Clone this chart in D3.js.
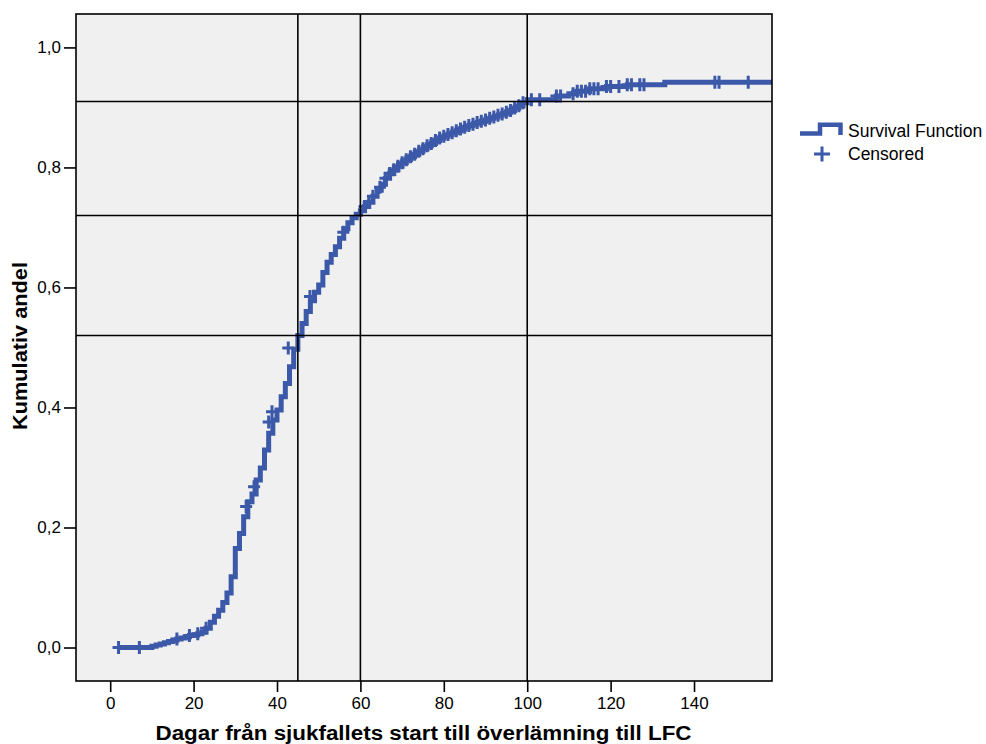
<!DOCTYPE html>
<html>
<head>
<meta charset="utf-8">
<script src="https://cdn.jsdelivr.net/npm/d3@7"></script>
<style>
  body { margin: 0; background: #fff; }
  svg { display: block; font-family: "Liberation Sans", Arial, sans-serif; }
</style>
</head>
<body>
<svg id="svg"></svg>
<script>
// event times (days) and cumulative share at each step
var eventDays = [2, 10, 11, 12, 13, 14, 15, 16, 17, 18, 19, 20, 21, 22, 23, 24, 25, 26, 27, 28,
  29, 30, 31, 32, 33, 34, 35, 36, 37, 38, 39, 40, 41, 42, 43, 44, 45, 46, 47, 48,
  49, 50, 51, 52, 53, 54, 55, 56, 57, 58, 59, 60, 61, 62, 63, 64, 65, 66, 67, 68,
  69, 70, 71, 72, 73, 74, 75, 76, 77, 78, 79, 80, 81, 82, 83, 84, 85, 86, 87, 88,
  89, 90, 91, 92, 93, 94, 95, 96, 97, 98, 99, 100, 107, 110, 112, 115, 119, 124, 133];
var cumShare = [0, 0.002, 0.004, 0.006, 0.008, 0.010, 0.012, 0.014, 0.016, 0.018, 0.020, 0.021, 0.023, 0.026, 0.032, 0.042, 0.052, 0.062, 0.075, 0.091,
  0.118, 0.165, 0.19, 0.218, 0.243, 0.256, 0.279, 0.299, 0.329, 0.357, 0.379, 0.396, 0.418, 0.44, 0.468, 0.497, 0.52, 0.54, 0.56, 0.578,
  0.592, 0.604, 0.625, 0.642, 0.655, 0.668, 0.682, 0.698, 0.708, 0.716, 0.722, 0.728, 0.735, 0.742, 0.752, 0.762, 0.772, 0.782, 0.79, 0.796,
  0.802, 0.808, 0.813, 0.818, 0.822, 0.827, 0.831, 0.836, 0.84, 0.845, 0.849, 0.852, 0.855, 0.858, 0.861, 0.864, 0.867, 0.87, 0.872, 0.875,
  0.877, 0.879, 0.882, 0.884, 0.887, 0.889, 0.892, 0.895, 0.899, 0.903, 0.908, 0.913, 0.919, 0.923, 0.927, 0.931, 0.935, 0.938, 0.942];
var lastDay = 160;

// censored cases
var censorDays = [2, 7, 16, 19, 21, 23, 32.6, 34.5, 38, 38.8, 42.7, 47.9, 55.9, 61, 62, 63, 64.7, 66, 67, 68,
  69, 70, 71, 72, 73, 74, 75, 76, 77, 78, 79, 80, 81, 82, 83, 84, 85, 86, 87, 88,
  89, 90, 91, 92, 93, 94, 95, 96, 97, 98, 99, 101, 103, 107, 108, 111, 112, 113, 114, 115,
  116, 117, 119, 120, 122, 124, 125, 127, 128, 145, 146, 153];
var censorShare = [0, 0, 0.014, 0.020, 0.023, 0.032, 0.235, 0.268, 0.376, 0.393, 0.499, 0.585, 0.692, 0.735, 0.742, 0.752, 0.767, 0.782, 0.79, 0.796,
  0.802, 0.808, 0.813, 0.818, 0.822, 0.827, 0.831, 0.836, 0.84, 0.845, 0.849, 0.852, 0.855, 0.858, 0.861, 0.864, 0.867, 0.87, 0.872, 0.875,
  0.877, 0.879, 0.882, 0.884, 0.887, 0.889, 0.892, 0.895, 0.899, 0.903, 0.908, 0.913, 0.913, 0.919, 0.919, 0.923, 0.927, 0.927, 0.927, 0.931,
  0.931, 0.931, 0.935, 0.935, 0.935, 0.938, 0.938, 0.938, 0.938, 0.942, 0.942, 0.942];

var xTicks = [0, 20, 40, 60, 80, 100, 120, 140];
var yTicks = [0, 0.2, 0.4, 0.6, 0.8, 1.0];
var refDays = [45, 60, 100];
var refShares = [0.52, 0.72, 0.91];

var width = 986, height = 744;
var blue = '#3c59a9';
var plot = { left: 76, right: 772, top: 14, bottom: 681 };

var x = d3.scaleLinear().domain([-8.2, 158.7]).range([plot.left, plot.right]);
var y = d3.scaleLinear().domain([-0.0558, 1.0557]).range([plot.bottom, plot.top]);

var comma = function (d) { return d3.format('.1f')(d).replace('.', ','); };

var s = d3.select('#svg').attr('width', width).attr('height', height);

s.append('defs').append('clipPath').attr('id', 'clip')
  .append('rect')
  .attr('x', plot.left).attr('y', plot.top)
  .attr('width', plot.right - plot.left).attr('height', plot.bottom - plot.top);

s.append('rect')
  .attr('x', plot.left).attr('y', plot.top)
  .attr('width', plot.right - plot.left).attr('height', plot.bottom - plot.top)
  .attr('fill', '#f0f0f0');

var g = s.append('g').attr('clip-path', 'url(#clip)');

// survival step line
var pts = eventDays.map(function (d, i) { return [d, cumShare[i]]; });
pts.push([lastDay, cumShare[cumShare.length - 1]]);

var line = d3.line()
  .x(function (d) { return x(d[0]); })
  .y(function (d) { return y(d[1]); })
  .curve(d3.curveStepAfter);

g.append('path')
  .datum(pts)
  .attr('d', line)
  .attr('fill', 'none')
  .attr('stroke', blue)
  .attr('stroke-width', 5);

// censored marks
g.selectAll('path.cens')
  .data(censorDays)
  .enter()
  .append('path')
  .attr('class', 'cens')
  .attr('transform', function (d, i) { return 'translate(' + x(d) + ',' + y(censorShare[i]) + ')'; })
  .attr('d', 'M-6,0H6M0,-6.5V6.5')
  .attr('stroke', blue)
  .attr('stroke-width', 3)
  .attr('fill', 'none');

// reference lines
g.selectAll('line.vref')
  .data(refDays)
  .enter()
  .append('line')
  .attr('x1', function (d) { return x(d); })
  .attr('x2', function (d) { return x(d); })
  .attr('y1', plot.top).attr('y2', plot.bottom)
  .attr('stroke', '#000').attr('stroke-width', 1.6);

g.selectAll('line.href')
  .data(refShares)
  .enter()
  .append('line')
  .attr('y1', function (d) { return y(d); })
  .attr('y2', function (d) { return y(d); })
  .attr('x1', plot.left).attr('x2', plot.right)
  .attr('stroke', '#000').attr('stroke-width', 1.6);

// frame
s.append('rect')
  .attr('x', plot.left).attr('y', plot.top)
  .attr('width', plot.right - plot.left).attr('height', plot.bottom - plot.top)
  .attr('fill', 'none').attr('stroke', '#000').attr('stroke-width', 1.6);

// axes
var axisX = d3.axisBottom(x).tickValues(xTicks).tickSize(11).tickSizeOuter(0).tickPadding(5);
var axisY = d3.axisLeft(y).tickValues(yTicks).tickSize(12).tickSizeOuter(0).tickPadding(3).tickFormat(comma);

var gx = s.append('g').attr('transform', 'translate(0,' + plot.bottom + ')').call(axisX);
var gy = s.append('g').attr('transform', 'translate(' + plot.left + ',0)').call(axisY);

[gx, gy].forEach(function (a) {
  a.select('.domain').remove();
  a.selectAll('line').attr('stroke', '#000').attr('stroke-width', 1.6);
  a.selectAll('text').attr('fill', '#000').style('font-size', '17px')
    .style('font-family', '"Liberation Sans", Arial, sans-serif');
});

// axis titles
s.append('text')
  .attr('x', (155 + 692) / 2).attr('y', 740)
  .attr('text-anchor', 'middle')
  .attr('textLength', 536).attr('lengthAdjust', 'spacingAndGlyphs')
  .style('font-size', '20px').style('font-weight', 'bold')
  .text('Dagar från sjukfallets start till överlämning till LFC');

s.append('text')
  .attr('transform', 'translate(27,346) rotate(-90)')
  .attr('text-anchor', 'middle')
  .attr('textLength', 168).attr('lengthAdjust', 'spacingAndGlyphs')
  .style('font-size', '19.5px').style('font-weight', 'bold')
  .text('Kumulativ andel');

// legend
var lg = s.append('g');
lg.append('path')
  .attr('d', 'M800,133.5H820V124.7H840.5V135')
  .attr('fill', 'none').attr('stroke', blue).attr('stroke-width', 4.5);
lg.append('text').attr('x', 848).attr('y', 137)
  .style('font-size', '17.5px').text('Survival Function');
lg.append('path')
  .attr('transform', 'translate(822,154)')
  .attr('d', 'M-8,0H8M0,-7.5V7.5')
  .attr('fill', 'none').attr('stroke', blue).attr('stroke-width', 3);
lg.append('text').attr('x', 848).attr('y', 159.5)
  .style('font-size', '17.5px').text('Censored');
</script>
</body>
</html>
